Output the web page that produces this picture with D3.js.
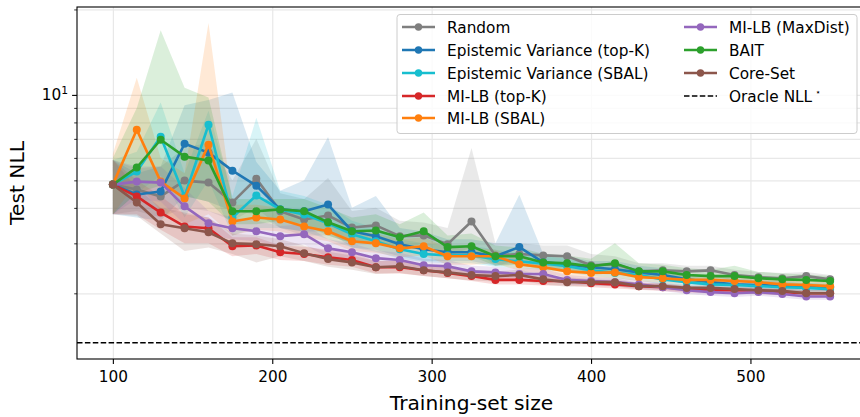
<!DOCTYPE html>
<html>
<head>
<meta charset="utf-8">
<script src="https://cdnjs.cloudflare.com/ajax/libs/d3/7.8.5/d3.min.js"></script>
<style>
    body { margin: 0; background: #fff; }
    svg { display: block; font-family: "DejaVu Sans", sans-serif; }
</style>
</head>
<body>
<svg id="chart" width="860" height="417"></svg>
<script>
// training-set sizes (x)
const trainSizes = [100, 115, 130, 145, 160, 175, 190, 205, 220, 235, 250, 265, 280, 295, 310, 325,
    340, 355, 370, 385, 400, 415, 430, 445, 460, 475, 490, 505, 520, 535, 550];

const randomMean = [4.83, 4.64, 4.39, 4.99, 4.91, 4.18, 5.07, 3.89, 3.64, 3.76, 3.41, 3.47, 3.18, 3.20, 2.98, 3.58,
    2.72, 2.75, 2.72, 2.70, 2.51, 2.53, 2.39, 2.41, 2.39, 2.41, 2.32, 2.28, 2.26, 2.30, 2.24];
const randomHi = [5.9, 5.5, 5.6, 6.5, 6.8, 5.0, 7.0, 4.5, 4.3, 5.1, 3.9, 4.0, 3.6, 3.55, 3.4, 6.5,
    3.0, 3.0, 2.95, 2.95, 2.75, 2.7, 2.55, 2.55, 2.5, 2.5, 2.42, 2.38, 2.36, 2.38, 2.32];
const randomLo = [3.8, 3.9, 3.7, 4.0, 3.9, 3.6, 4.0, 3.4, 3.2, 3.2, 3.0, 3.05, 2.85, 2.9, 2.7, 2.9,
    2.5, 2.55, 2.5, 2.5, 2.35, 2.38, 2.27, 2.28, 2.28, 2.3, 2.22, 2.2, 2.18, 2.2, 2.16];

const evTopkMean = [4.83, 4.46, 4.57, 6.73, 6.26, 5.41, 4.79, 3.95, 3.89, 4.11, 3.31, 3.18, 2.98, 2.86, 2.79, 2.79,
    2.70, 2.91, 2.57, 2.53, 2.47, 2.43, 2.37, 2.32, 2.24, 2.19, 2.15, 2.14, 2.12, 2.10, 2.10];
const evTopkHi = [5.9, 5.3, 5.6, 9.2, 9.6, 10.2, 5.8, 4.6, 5.0, 7.1, 4.0, 4.4, 3.4, 3.3, 3.1, 3.1,
    3.0, 4.45, 2.75, 2.7, 2.6, 2.6, 2.5, 2.45, 2.35, 2.3, 2.25, 2.22, 2.2, 2.18, 2.16];
const evTopkLo = [3.8, 3.7, 3.6, 4.4, 4.2, 3.9, 3.8, 3.4, 3.3, 3.3, 2.9, 2.85, 2.7, 2.6, 2.6, 2.6,
    2.5, 2.6, 2.45, 2.4, 2.35, 2.33, 2.27, 2.24, 2.16, 2.12, 2.08, 2.07, 2.05, 2.04, 2.04];

const evSbalMean = [4.83, 5.37, 7.12, 4.39, 7.85, 3.70, 4.42, 3.95, 3.79, 3.53, 3.23, 3.05, 2.86, 2.75, 2.72, 2.72,
    2.64, 2.59, 2.55, 2.49, 2.41, 2.36, 2.32, 2.24, 2.19, 2.15, 2.14, 2.12, 2.10, 2.09, 2.07];
const evSbalHi = [5.9, 6.3, 9.4, 5.3, 8.8, 4.4, 8.3, 4.6, 4.4, 4.1, 3.6, 3.4, 3.1, 3.0, 2.95, 2.95,
    2.85, 2.78, 2.7, 2.65, 2.55, 2.5, 2.45, 2.36, 2.3, 2.25, 2.23, 2.2, 2.18, 2.17, 2.15];
const evSbalLo = [3.8, 4.5, 5.2, 3.7, 5.0, 3.2, 3.4, 3.4, 3.3, 3.1, 2.9, 2.8, 2.65, 2.58, 2.55, 2.55,
    2.48, 2.45, 2.42, 2.37, 2.3, 2.26, 2.22, 2.15, 2.1, 2.07, 2.06, 2.05, 2.03, 2.02, 2.0];

const milbTopkMean = [4.83, 4.39, 3.85, 3.44, 3.39, 2.93, 2.95, 2.79, 2.75, 2.68, 2.62, 2.47, 2.47, 2.41, 2.36, 2.30,
    2.23, 2.23, 2.21, 2.21, 2.17, 2.15, 2.12, 2.10, 2.07, 2.05, 2.05, 2.04, 2.02, 2.00, 2.00];
const milbTopkHi = [5.9, 5.0, 4.4, 3.8, 3.7, 3.15, 3.15, 2.95, 2.92, 2.85, 2.78, 2.6, 2.6, 2.53, 2.47, 2.4,
    2.32, 2.32, 2.29, 2.29, 2.24, 2.22, 2.18, 2.16, 2.13, 2.1, 2.1, 2.09, 2.07, 2.05, 2.05];
const milbTopkLo = [3.8, 3.8, 3.35, 3.0, 3.0, 2.7, 2.75, 2.62, 2.6, 2.52, 2.48, 2.35, 2.35, 2.3, 2.26, 2.21,
    2.15, 2.15, 2.13, 2.13, 2.1, 2.08, 2.06, 2.04, 2.01, 2.0, 2.0, 1.99, 1.97, 1.95, 1.95];

const milbSbalMean = [4.83, 7.54, 4.95, 4.32, 6.68, 3.58, 3.70, 3.64, 3.44, 3.31, 3.05, 3.00, 2.88, 2.93, 2.70, 2.70,
    2.70, 2.53, 2.47, 2.39, 2.36, 2.37, 2.28, 2.26, 2.23, 2.23, 2.21, 2.19, 2.15, 2.14, 2.12];
const milbSbalHi = [6.2, 11.5, 6.0, 5.3, 17.9, 4.1, 4.1, 4.0, 3.75, 3.6, 3.3, 3.25, 3.1, 3.15, 2.9, 2.9,
    2.85, 2.68, 2.6, 2.5, 2.46, 2.48, 2.37, 2.35, 2.3, 2.3, 2.28, 2.26, 2.22, 2.21, 2.19];
const milbSbalLo = [3.8, 4.9, 3.9, 3.5, 3.8, 3.2, 3.35, 3.3, 3.15, 3.05, 2.82, 2.78, 2.68, 2.72, 2.52, 2.52,
    2.55, 2.4, 2.35, 2.28, 2.26, 2.27, 2.2, 2.18, 2.16, 2.16, 2.14, 2.12, 2.09, 2.08, 2.06];

const maxDistMean = [4.83, 4.95, 4.91, 4.05, 3.53, 3.39, 3.31, 3.18, 3.23, 2.88, 2.79, 2.66, 2.62, 2.51, 2.49, 2.39,
    2.37, 2.34, 2.34, 2.23, 2.21, 2.19, 2.15, 2.10, 2.05, 2.02, 2.00, 2.02, 1.99, 1.95, 1.95];
const maxDistHi = [5.9, 5.6, 5.6, 4.7, 3.9, 3.7, 3.6, 3.45, 3.5, 3.1, 3.0, 2.83, 2.78, 2.65, 2.62, 2.5,
    2.48, 2.45, 2.44, 2.32, 2.29, 2.27, 2.22, 2.17, 2.11, 2.08, 2.06, 2.08, 2.05, 2.01, 2.01];
const maxDistLo = [3.8, 4.3, 4.2, 3.5, 3.2, 3.1, 3.05, 2.92, 2.97, 2.67, 2.6, 2.5, 2.47, 2.38, 2.37, 2.28,
    2.27, 2.24, 2.24, 2.15, 2.13, 2.12, 2.08, 2.04, 1.99, 1.96, 1.94, 1.96, 1.93, 1.9, 1.9];

const baitMean = [4.83, 5.55, 6.95, 6.06, 5.87, 3.89, 3.89, 3.95, 3.89, 3.56, 3.31, 3.33, 3.15, 3.31, 2.91, 2.93,
    2.70, 2.70, 2.57, 2.55, 2.49, 2.55, 2.39, 2.39, 2.32, 2.30, 2.30, 2.26, 2.24, 2.23, 2.21];
const baitHi = [6.0, 9.0, 16.9, 10.6, 9.8, 4.3, 4.3, 4.3, 4.3, 4.0, 3.7, 3.8, 3.5, 3.85, 3.2, 3.25,
    2.95, 2.9, 2.75, 2.72, 2.65, 3.0, 2.55, 2.52, 2.45, 2.42, 2.5, 2.38, 2.35, 2.33, 2.3];
const baitLo = [3.8, 4.5, 4.8, 4.4, 4.2, 3.5, 3.5, 3.6, 3.5, 3.2, 3.0, 3.0, 2.85, 3.0, 2.7, 2.7,
    2.5, 2.52, 2.42, 2.4, 2.36, 2.4, 2.27, 2.28, 2.22, 2.2, 2.2, 2.17, 2.15, 2.14, 2.13];

const coresetMean = [4.83, 4.18, 3.50, 3.39, 3.28, 3.00, 2.98, 2.93, 2.77, 2.64, 2.57, 2.47, 2.49, 2.41, 2.37, 2.32,
    2.30, 2.32, 2.24, 2.19, 2.19, 2.19, 2.12, 2.12, 2.09, 2.09, 2.07, 2.05, 2.04, 2.00, 2.00];
const coresetHi = [5.9, 4.7, 4.0, 3.85, 3.7, 3.25, 3.2, 3.1, 2.95, 2.8, 2.72, 2.6, 2.62, 2.53, 2.48, 2.42,
    2.39, 2.42, 2.32, 2.26, 2.26, 2.26, 2.18, 2.18, 2.15, 2.15, 2.13, 2.11, 2.1, 2.06, 2.06];
const coresetLo = [3.8, 3.75, 3.25, 2.82, 2.9, 2.75, 2.57, 2.7, 2.6, 2.48, 2.42, 2.34, 2.36, 2.3, 2.26, 2.22,
    2.2, 2.22, 2.15, 2.11, 2.12, 2.12, 2.06, 2.06, 2.03, 2.03, 2.01, 1.99, 1.98, 1.94, 1.94];

const oracleNLL = 1.34;

const xTicks = [100, 200, 300, 400, 500];
const yMinorTicks = [2, 3, 4, 5, 6, 7, 8, 9, 20];
const yMajorTicks = [10];

const series = [
    {name: "Random", color: "#7f7f7f", mean: randomMean, lo: randomLo, hi: randomHi},
    {name: "Epistemic Variance (top-K)", color: "#1f77b4", mean: evTopkMean, lo: evTopkLo, hi: evTopkHi},
    {name: "Epistemic Variance (SBAL)", color: "#17becf", mean: evSbalMean, lo: evSbalLo, hi: evSbalHi},
    {name: "MI-LB (top-K)", color: "#d62728", mean: milbTopkMean, lo: milbTopkLo, hi: milbTopkHi},
    {name: "MI-LB (SBAL)", color: "#ff7f0e", mean: milbSbalMean, lo: milbSbalLo, hi: milbSbalHi},
    {name: "MI-LB (MaxDist)", color: "#9467bd", mean: maxDistMean, lo: maxDistLo, hi: maxDistHi},
    {name: "BAIT", color: "#2ca02c", mean: baitMean, lo: baitLo, hi: baitHi},
    {name: "Core-Set", color: "#8c564b", mean: coresetMean, lo: coresetLo, hi: coresetHi}
];

// layout: the right spine sits just past the edge of the picture
const plot = {left: 77, top: 7, right: 866, bottom: 359};

const x = d3.scaleLinear().domain([77.5, 572.5]).range([plot.left, plot.right]);
const y = d3.scaleLog().domain([1.174, 20.4]).range([plot.bottom, plot.top]);

const svg = d3.select("#chart");

svg.append("defs").append("clipPath").attr("id", "plotClip")
    .append("rect")
    .attr("x", plot.left).attr("y", plot.top)
    .attr("width", plot.right - plot.left).attr("height", plot.bottom - plot.top);

// grid (major + minor y, major x)
const grid = svg.append("g").attr("class", "grid");
grid.append("g")
    .attr("transform", `translate(${plot.left},0)`)
    .call(d3.axisLeft(y).tickValues(yMinorTicks.concat(yMajorTicks)).tickSize(-(plot.right - plot.left)).tickFormat(""))
    .call(g => g.select(".domain").remove());
grid.append("g")
    .attr("transform", `translate(0,${plot.bottom})`)
    .call(d3.axisBottom(x).tickValues(xTicks).tickSize(-(plot.bottom - plot.top)).tickFormat(""))
    .call(g => g.select(".domain").remove());
grid.selectAll("line").attr("stroke", "#e8e8e8").attr("stroke-width", 1.2);

const body = svg.append("g").attr("clip-path", "url(#plotClip)");

// shaded bands go under every line (matplotlib zorder)
const area = d3.area()
    .x((d, i) => x(trainSizes[i]))
    .y0(d => y(d.lo))
    .y1(d => y(d.hi));

for (let s of series) {
    let rows = s.mean.map((m, i) => ({lo: s.lo[i], hi: s.hi[i]}));
    body.append("path")
        .attr("d", area(rows))
        .attr("fill", s.color)
        .attr("fill-opacity", 0.17)
        .attr("stroke", "none");
}

const line = d3.line()
    .x((d, i) => x(trainSizes[i]))
    .y(d => y(d));

for (let s of series) {
    let g = body.append("g");
    g.append("path")
        .attr("d", line(s.mean))
        .attr("fill", "none")
        .attr("stroke", s.color)
        .attr("stroke-width", 2.6)
        .attr("stroke-linejoin", "round");
    g.selectAll("circle")
        .data(s.mean)
        .join("circle")
        .attr("cx", (d, i) => x(trainSizes[i]))
        .attr("cy", d => y(d))
        .attr("r", 4)
        .attr("fill", s.color);
}

body.append("line")
    .attr("x1", plot.left).attr("x2", plot.right)
    .attr("y1", y(oracleNLL)).attr("y2", y(oracleNLL))
    .attr("stroke", "#000")
    .attr("stroke-width", 1.5)
    .attr("stroke-dasharray", "5.5,2.4");

// axes
const xAxis = svg.append("g")
    .attr("transform", `translate(0,${plot.bottom})`)
    .call(d3.axisBottom(x).tickValues(xTicks).tickSize(4.9).tickPadding(7).tickFormat(d3.format("d")));
xAxis.select(".domain").remove();
xAxis.selectAll("line").attr("stroke", "#000").attr("stroke-width", 1.1);
xAxis.selectAll("text").attr("font-size", 15.3).attr("fill", "#000").attr("font-family", "DejaVu Sans");

const yAxis = svg.append("g")
    .attr("transform", `translate(${plot.left},0)`)
    .call(d3.axisLeft(y).tickValues(yMinorTicks).tickSize(2.8).tickFormat(""));
yAxis.select(".domain").remove();
yAxis.selectAll("line").attr("stroke", "#000").attr("stroke-width", 0.8);

const yMajor = svg.append("g")
    .attr("transform", `translate(${plot.left},0)`)
    .call(d3.axisLeft(y).tickValues(yMajorTicks).tickSize(4.9).tickFormat(""));
yMajor.select(".domain").remove();
yMajor.selectAll("line").attr("stroke", "#000").attr("stroke-width", 1.1);

for (let v of yMajorTicks) {
    let t = svg.append("text")
        .attr("x", plot.left - 9)
        .attr("y", y(v) + 5.5)
        .attr("text-anchor", "end")
        .attr("font-size", 15.3)
        .attr("fill", "#000");
    t.append("tspan").text("10");
    t.append("tspan").attr("font-size", 10.7).attr("dy", -6).text(Math.round(Math.log10(v)));
}

// spines
svg.append("rect")
    .attr("x", plot.left).attr("y", plot.top)
    .attr("width", plot.right - plot.left).attr("height", plot.bottom - plot.top)
    .attr("fill", "none")
    .attr("stroke", "#000")
    .attr("stroke-width", 1.1);

svg.append("text")
    .attr("x", (plot.left + plot.right) / 2)
    .attr("y", 410)
    .attr("text-anchor", "middle")
    .attr("font-size", 20.2)
    .attr("fill", "#000")
    .text("Training-set size");

svg.append("text")
    .attr("transform", `translate(24,${(plot.top + plot.bottom) / 2}) rotate(-90)`)
    .attr("text-anchor", "middle")
    .attr("font-size", 20.2)
    .attr("fill", "#000")
    .text("Test NLL");

// legend, two columns
const legend = svg.append("g");
legend.append("rect")
    .attr("x", 397).attr("y", 14.5)
    .attr("width", 460).attr("height", 119)
    .attr("rx", 3)
    .attr("fill", "#fff")
    .attr("fill-opacity", 0.8)
    .attr("stroke", "#cccccc")
    .attr("stroke-width", 1);

const rowY = [27, 50, 73, 96, 118];
const legendItems = series.map(s => ({name: s.name, color: s.color, dashed: false}))
    .concat([{name: "Oracle NLL", color: "#000", dashed: true}]);

legendItems.forEach((item, i) => {
    let col = i < 5 ? 0 : 1;
    let row = i < 5 ? i : i - 5;
    let hx = col === 0 ? 402 : 684;
    let cy = rowY[row];
    let g = legend.append("g");
    g.append("line")
        .attr("x1", hx).attr("x2", hx + 33)
        .attr("y1", cy).attr("y2", cy)
        .attr("stroke", item.color)
        .attr("stroke-width", item.dashed ? 1.5 : 2.6)
        .attr("stroke-dasharray", item.dashed ? "5.5,2.4" : null);
    if (!item.dashed) {
        g.append("circle")
            .attr("cx", hx + 16.5).attr("cy", cy).attr("r", 3.7)
            .attr("fill", item.color);
    }
    let t = g.append("text")
        .attr("x", hx + 45)
        .attr("y", cy + 5.5)
        .attr("font-size", 15.3)
        .attr("fill", "#000");
    t.append("tspan").text(item.name);
    if (item.dashed) {
        t.append("tspan").attr("font-size", 9).attr("dx", 3).attr("dy", -7).text("⋆");
    }
});
</script>
</body>
</html>
